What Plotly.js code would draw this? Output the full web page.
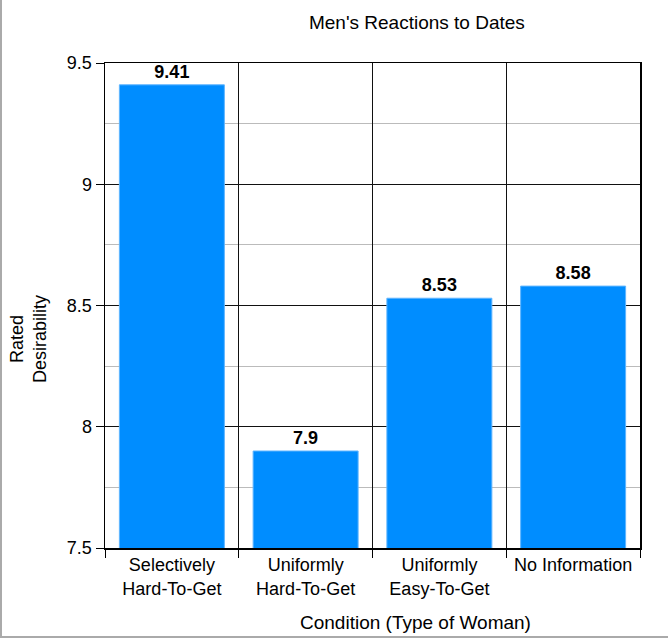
<!DOCTYPE html>
<html>
<head>
<meta charset="utf-8">
<script src="https://cdn.plot.ly/plotly-3.0.1.min.js"></script>
<style>
  body { margin: 0; background: #fff; }
  #chart { width: 668px; height: 638px; }
  #frame {
    position: absolute; left: 0; top: 0; width: 668px; height: 638px;
    box-sizing: border-box; border-left: 2px solid #aaa; border-bottom: 2px solid #aaa;
    pointer-events: none;
  }
</style>
</head>
<body>
<div id="chart"></div>
<div id="frame"></div>
<script>
// values
const conditions = [
    "Selectively<br>Hard-To-Get",
    "Uniformly<br>Hard-To-Get",
    "Uniformly<br>Easy-To-Get",
    "No Information"
];
const desirability = [9.41, 7.9, 8.53, 8.58];
const yTicks = [7.5, 8, 8.5, 9, 9.5];

const FONT = '"Liberation Sans", Arial, Helvetica, sans-serif';

let bars = {
    type: 'bar',
    x: conditions,
    y: desirability,
    text: desirability.map(v => String(v)),
    textposition: 'outside',
    cliponaxis: false,
    textfont: { family: FONT, size: 18, color: '#000', weight: 'bold' },
    marker: {
        color: '#008dff',
        line: { color: '#5fb5ff', width: 1 }
    },
    hoverinfo: 'x+y'
};

let layout = {
    width: 668,
    height: 638,
    margin: { l: 105, r: 28, t: 63, b: 90 },
    paper_bgcolor: '#fff',
    plot_bgcolor: '#fff',
    font: { family: FONT, size: 18, color: '#000' },
    showlegend: false,
    bargap: 0.215,
    title: {
        text: "Men's Reactions to Dates",
        font: { family: FONT, size: 19, color: '#000' },
        xref: 'paper', x: 0.583, xanchor: 'center',
        yref: 'container', y: 0.965, yanchor: 'middle'
    },
    xaxis: {
        type: 'category',
        tickson: 'boundaries',
        ticks: 'outside',
        ticklen: 8,
        tickcolor: '#000',
        showgrid: true,
        gridcolor: '#111',
        gridwidth: 1.2,
        showline: true,
        linecolor: '#000',
        linewidth: 1.5,
        mirror: true,
        tickfont: { family: FONT, size: 18, color: '#000' },
        fixedrange: true
    },
    yaxis: {
        range: [7.5, 9.5],
        tickvals: yTicks,
        ticks: 'outside',
        ticklen: 8,
        tickcolor: '#000',
        showgrid: true,
        gridcolor: '#111',
        gridwidth: 1.2,
        zeroline: false,
        showline: true,
        linecolor: '#000',
        linewidth: 1.5,
        mirror: true,
        minor: { dtick: 0.25, showgrid: true, gridcolor: '#bbb', gridwidth: 1.2, ticks: '' },
        tickfont: { family: FONT, size: 18, color: '#000' },
        fixedrange: true
    },
    annotations: [
        {
            text: 'Condition (Type of Woman)',
            xref: 'paper', x: 0.581, xanchor: 'center',
            yref: 'paper', y: -0.1526, yanchor: 'middle',
            showarrow: false,
            font: { family: FONT, size: 19, color: '#000' }
        },
        {
            text: 'Rated<br>Desirability',
            textangle: -90,
            xref: 'paper', x: -0.142, xanchor: 'center',
            yref: 'paper', y: 0.431, yanchor: 'middle',
            showarrow: false,
            font: { family: FONT, size: 18, color: '#000' }
        }
    ]
};

Plotly.newPlot('chart', [bars], layout, { displayModeBar: false, staticPlot: true });
</script>
</body>
</html>
